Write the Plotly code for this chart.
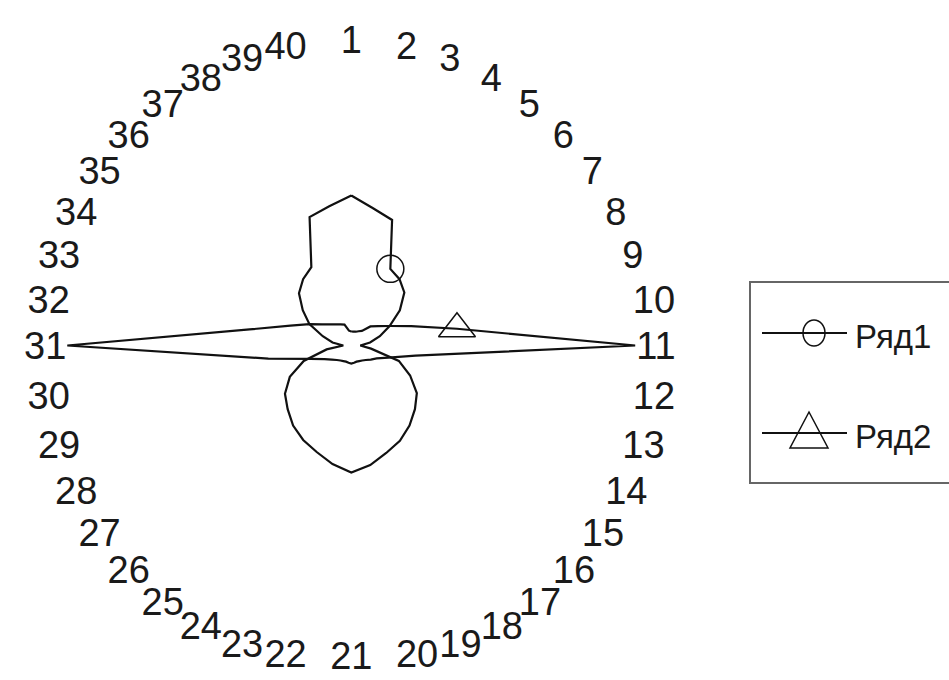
import plotly.graph_objects as go

# Category labels around the radar
categories = ["1", "2", "3", "4", "5", "6", "7", "8", "9", "10",
              "11", "12", "13", "14", "15", "16", "17", "18", "19", "20",
              "21", "22", "23", "24", "25", "26", "27", "28", "29", "30",
              "31", "32", "33", "34", "35", "36", "37", "38", "39", "40"]

# Series values, one per category
ryad1 = [150, 139, 132, 86, 82, 75, 60, 43, 30, 19,
         9, 20, 50, 66, 81, 90, 99, 107, 113, 121,
         127, 120, 112, 106, 99, 90, 82, 69, 50, 25,
         8, 19, 30, 47, 60, 74, 82, 88, 135, 141]

ryad2 = [14, 14, 14.5, 16, 18, 27, 33, 43, 63, 107,
         284, 65, 39, 28.5, 24, 20.5, 18.5, 17.5, 17, 17.5,
         18, 17.5, 17, 17.5, 18.5, 20.5, 24, 30, 43, 84,
         284, 103, 64, 47, 36, 30, 26, 23.6, 22, 15]

series_names = ["Ряд1", "Ряд2"]
# the single category that carries a marker on each series
marked_category = ["4", "10"]

W, H = 949, 680
INK = "#111111"
FONT = "Liberation Sans, Arial, sans-serif"


def px_x(v):
    return v / W


def px_y(v):
    return 1 - v / H


fig = go.Figure()

# closed polygons
for name, vals in zip(series_names, [ryad1, ryad2]):
    fig.add_trace(go.Scatterpolar(
        r=vals + [vals[0]],
        theta=categories + [categories[0]],
        mode="lines",
        line=dict(color=INK, width=2.2),
        name=name,
        showlegend=False,
        hoverinfo="skip",
    ))

# one marker per series
symbols = ["circle-open", "triangle-up-open"]
sizes = [27, 32]
for vals, cat, sym, sz, name in zip([ryad1, ryad2], marked_category, symbols, sizes, series_names):
    idx = categories.index(cat)
    fig.add_trace(go.Scatterpolar(
        r=[vals[idx]],
        theta=[cat],
        mode="markers",
        marker=dict(symbol=sym, size=sz, color=INK, line=dict(color=INK, width=1.5)),
        name=name,
        showlegend=False,
    ))

# centre (351.3, 345.5) px, radius 284.5 px
cx, cy, rad = 351.3, 345.5, 284.5
fig.update_layout(
    width=W, height=H,
    margin=dict(l=0, r=0, t=0, b=0, autoexpand=False),
    paper_bgcolor="white",
    plot_bgcolor="white",
    showlegend=False,
    polar=dict(
        domain=dict(x=[px_x(cx - rad), px_x(cx + rad)],
                    y=[px_y(cy + rad), px_y(cy - rad)]),
        bgcolor="white",
        radialaxis=dict(visible=False, range=[0, rad], showgrid=False),
        angularaxis=dict(
            type="category",
            categoryorder="array",
            categoryarray=categories,
            rotation=90,
            direction="clockwise",
            showline=False,
            showgrid=False,
            ticks="",
            tickfont=dict(family=FONT, size=38, color="#1a1a1a"),
        ),
    ),
)

# legend box, drawn in pixel-mapped paper coordinates
shapes = [
    dict(type="rect", xref="paper", yref="paper",
         x0=px_x(750), x1=px_x(1000), y0=px_y(483), y1=px_y(282),
         line=dict(color="#666666", width=2), fillcolor="white", layer="above"),
    dict(type="line", xref="paper", yref="paper",
         x0=px_x(762), x1=px_x(847), y0=px_y(333), y1=px_y(333),
         line=dict(color=INK, width=2.2), layer="above"),
    dict(type="circle", xref="paper", yref="paper",
         x0=px_x(803), x1=px_x(825), y0=px_y(346), y1=px_y(320),
         line=dict(color=INK, width=1.5), layer="above"),
    dict(type="line", xref="paper", yref="paper",
         x0=px_x(762), x1=px_x(847), y0=px_y(433), y1=px_y(433),
         line=dict(color=INK, width=2.2), layer="above"),
    dict(type="path", xref="paper", yref="paper",
         path="M {a},{b} L {c},{d} L {e},{f} Z".format(
             a=px_x(809), b=px_y(412), c=px_x(790), d=px_y(448),
             e=px_x(828), f=px_y(448)),
         line=dict(color=INK, width=1.5), layer="above"),
]
annotations = [
    dict(text=series_names[0], xref="paper", yref="paper",
         x=px_x(853), y=px_y(336), xanchor="left", yanchor="middle",
         showarrow=False, font=dict(family=FONT, size=33, color="#1a1a1a")),
    dict(text=series_names[1], xref="paper", yref="paper",
         x=px_x(853), y=px_y(436), xanchor="left", yanchor="middle",
         showarrow=False, font=dict(family=FONT, size=33, color="#1a1a1a")),
]
fig.update_layout(shapes=shapes, annotations=annotations)

fig.write_html("out.html")
